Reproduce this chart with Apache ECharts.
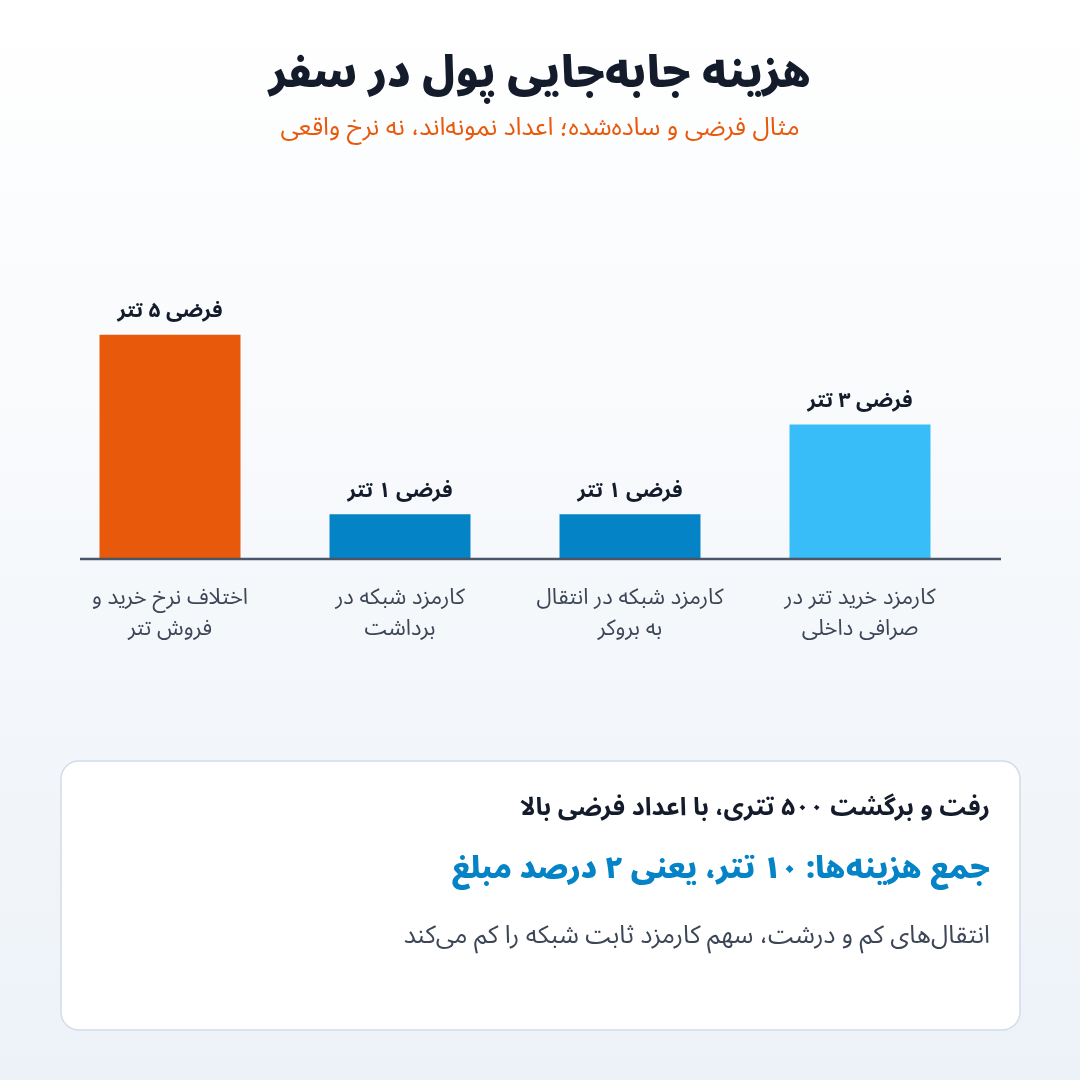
<!DOCTYPE html>
<html><head><meta charset="utf-8">
<script src="https://cdn.jsdelivr.net/npm/echarts@6/dist/echarts.min.js"></script>
<style>html,body{margin:0;padding:0;}#c{width:1080px;height:1080px;}</style>
</head><body><div id="c"></div>
<script>
const categories = ['اختلاف نرخ خرید و\nفروش تتر', 'کارمزد شبکه در\nبرداشت', 'کارمزد شبکه در انتقال\nبه بروکر', 'کارمزد خرید تتر در\nصرافی داخلی'];
const values = [5, 1, 1, 3];
const valueLabels = ['فرضی ۵ تتر', 'فرضی ۱ تتر', 'فرضی ۱ تتر', 'فرضی ۳ تتر'];
const barColors = ['#e8590c', '#0583c7', '#0583c7', '#38bdf8'];
const titleText = 'هزینه جابه‌جایی پول در سفر';
const subtitleText = 'مثال فرضی و ساده‌شده؛ اعداد نمونه‌اند، نه نرخ واقعی';
const cardLine1 = 'رفت و برگشت ۵۰۰ تتری، با اعداد فرضی بالا';
const cardLine2 = 'جمع هزینه‌ها: ۱۰ تتر، یعنی ۲ درصد مبلغ';
const cardLine3 = 'انتقال‌های کم و درشت، سهم کارمزد ثابت شبکه را کم می‌کند';

const FONT = '"Noto Sans Arabic", "Vazirmatn", "DejaVu Sans", sans-serif';
const chart = echarts.init(document.getElementById('c'));
chart.setOption({
  backgroundColor: {type:'linear', x:0, y:0, x2:0, y2:1, colorStops:[{offset:0,color:'#ffffff'},{offset:1,color:'#edf2f8'}]},
  textStyle: {fontFamily: FONT},
  title: [
    {text: titleText, left: 'center', top: 54, textStyle: {fontSize: 43, fontWeight: 900, color: '#141c2c', fontFamily: FONT}},
    {text: subtitleText, left: 'center', top: 114, textStyle: {fontSize: 25, fontWeight: 'normal', color: '#e8590c', fontFamily: FONT}}
  ],
  grid: {left: 55, width: 920, top: 290, height: 269},
  xAxis: {
    type: 'category', data: categories,
    axisLine: {show: false},
    axisTick: {show: false},
    axisLabel: {interval: 0, margin: 26, fontSize: 22, lineHeight: 31, color: '#3c4656', fontFamily: FONT}
  },
  yAxis: {type: 'value', min: 0, max: 6, show: false, splitLine: {show: false}},
  series: [{
    type: 'bar', barWidth: 141,
    data: values.map((v, i) => ({value: v, itemStyle: {color: barColors[i]}})),
    label: {show: true, position: 'top', distance: 10, fontSize: 21, fontWeight: 'bold', color: '#141c2c', fontFamily: FONT,
      formatter: p => valueLabels[p.dataIndex]}
  }],
  graphic: [
    {type: 'line', shape: {x1: 80, y1: 559, x2: 1001, y2: 559}, style: {stroke: '#4a5568', lineWidth: 2.5}, z: 10},
    {type: 'rect', shape: {x: 61, y: 761, width: 959, height: 269, r: 18}, style: {fill: '#ffffff', stroke: '#d3dce8', lineWidth: 1.5}, z: -1},
    {type: 'text', x: 990, y: 811, style: {text: cardLine1, align: 'right', verticalAlign: 'middle', font: 'bold 25px ' + FONT, fill: '#141c2c'}},
    {type: 'text', x: 990, y: 873, style: {text: cardLine2, align: 'right', verticalAlign: 'middle', font: '900 30px ' + FONT, fill: '#0583c7'}},
    {type: 'text', x: 990, y: 939, style: {text: cardLine3, align: 'right', verticalAlign: 'middle', font: '25px ' + FONT, fill: '#3c4656'}}
  ]
});
</script></body></html>
